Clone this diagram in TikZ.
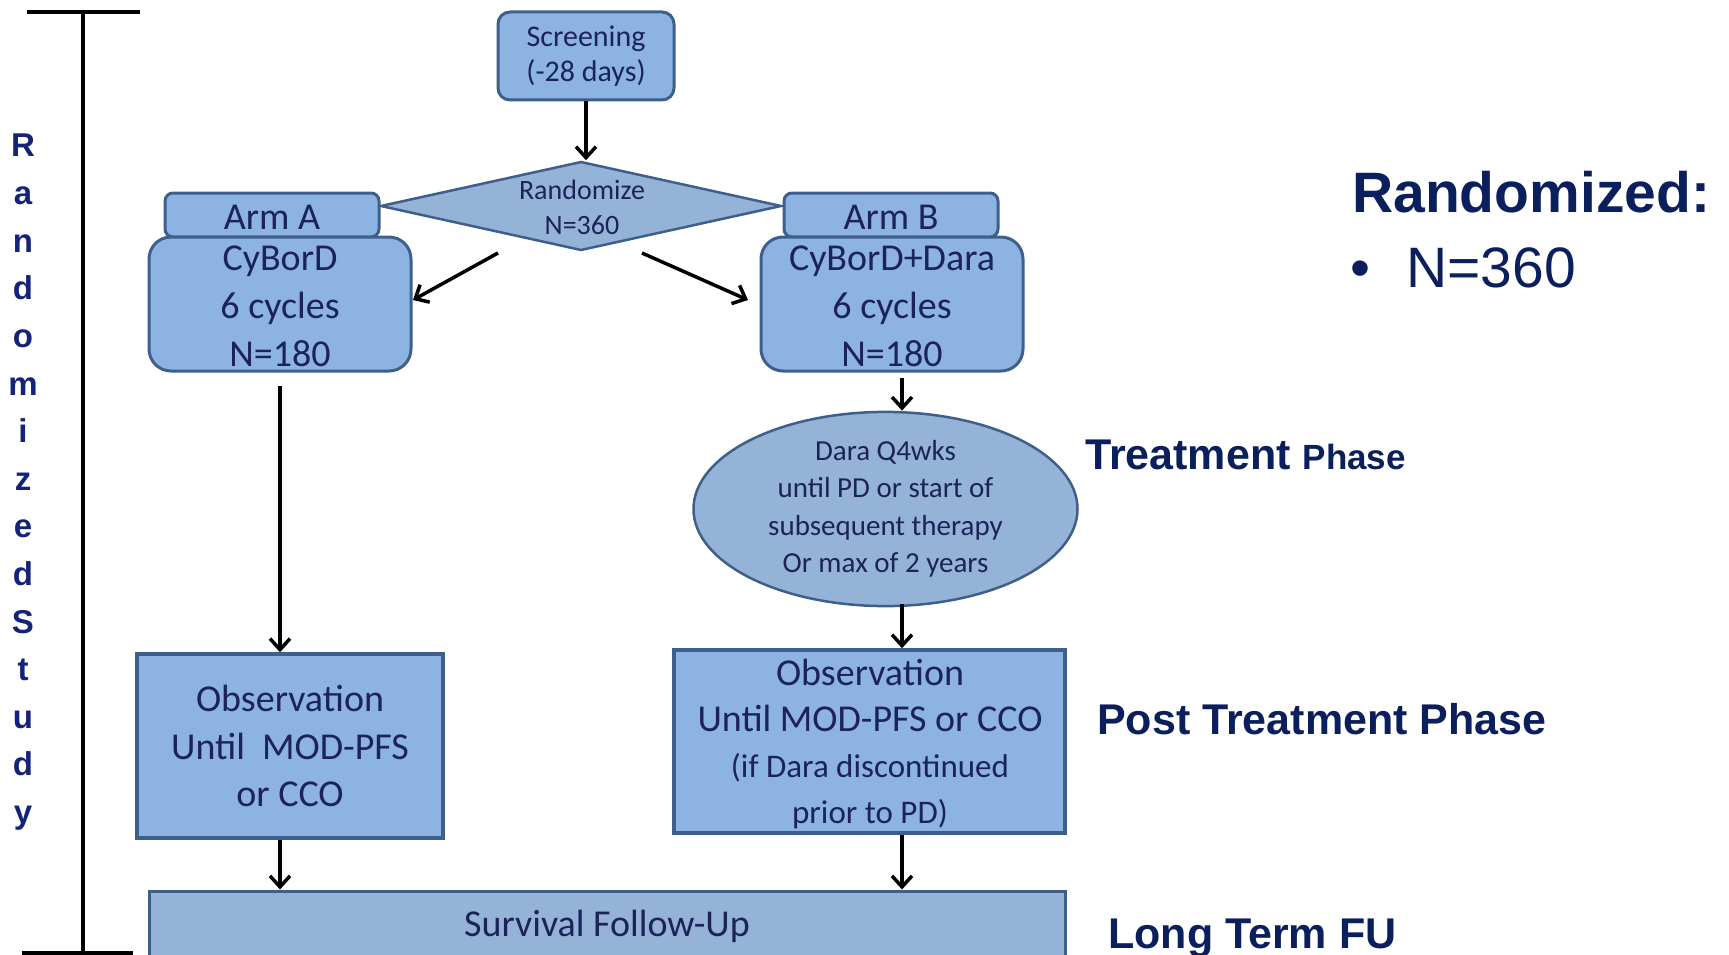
\documentclass[tikz,border=0pt]{standalone}
\usepackage{fontspec}
\setmainfont{Carlito}
\newfontfamily\arialf{Liberation Sans}
\usetikzlibrary{shapes.geometric,arrows.meta}
\definecolor{boxfill}{HTML}{8DB3E2}
\definecolor{grayfill}{HTML}{95B3D7}
\definecolor{boxline}{HTML}{3E5F8A}
\definecolor{boxtext}{HTML}{1C2358}
\definecolor{labtext}{HTML}{0A1F5C}
\definecolor{lettext}{HTML}{14237A}
\begin{document}
\begin{tikzpicture}[x=1pt,y=-1pt,
  rbox/.style={draw=boxline,line width=3pt,fill=boxfill,rounded corners=#1,inner sep=0pt,text=boxtext,align=center},
  sbox/.style={draw=boxline,line width=3.5pt,fill=#1,inner sep=0pt,text=boxtext,align=center},
  txt/.style={text=boxtext,align=center,inner sep=0pt},
  arr/.style={draw=black,line width=3.5pt,-{Straight Barb[length=11pt,width=20pt]}},
  lab/.style={text=labtext,anchor=base west,inner sep=0pt,font=\arialf\bfseries},
  vlet/.style={text=lettext,anchor=base,inner sep=0pt,font=\arialf\bfseries\fontsize{33}{33}\selectfont}
]
\useasboundingbox (0,0) rectangle (1729,955);
\clip (0,0) rectangle (1729,955);

% left study bar
\draw[line width=4pt] (27,12) -- (140,12);
\draw[line width=4pt] (83,12) -- (83,958);
\draw[line width=4pt] (22,953) -- (133,953);
\foreach \l [count=\i from 0] in {R,a,n,d,o,m,i,z,e,d,S,t,u,d,y}
  \node[vlet] (v\i) at (23,{157+47.6*\i}) {\l};

% screening
\node[rbox=12pt,minimum width=176pt,minimum height=88pt,font=\fontsize{30}{35}\selectfont] (screen) at (586,56) {Screening\\(-28 days)};

% randomize diamond
\node[diamond,draw=boxline,line width=2.5pt,fill=grayfill,minimum width=401pt,minimum height=89pt,inner sep=0pt] (rand) at (581,206) {};
\node[txt,font=\fontsize{28}{35}\selectfont] (randt) at (582,207) {Randomize\\N=360};

% arm A
\node[rbox=8pt,minimum width=214pt,minimum height=44pt] (tabA) at (272,215) {};
\node[rbox=22pt,minimum width=262pt,minimum height=134pt] (armA) at (280,304) {};
\node[txt,font=\fontsize{38}{48}\selectfont] (tabAt) at (272,217) {Arm A};
\node[txt,font=\fontsize{38}{48}\selectfont] (armAt) at (280,306) {CyBorD\\6 cycles\\N=180};

% arm B
\node[rbox=8pt,minimum width=214pt,minimum height=44pt] (tabB) at (891,215) {};
\node[rbox=22pt,minimum width=262pt,minimum height=134pt] (armB) at (892,304) {};
\node[txt,font=\fontsize{38}{48}\selectfont] (tabBt) at (891,217) {Arm B};
\node[txt,font=\fontsize{38}{48}\selectfont] (armBt) at (892,306) {CyBorD+Dara\\6 cycles\\N=180};

% ellipse
\node[ellipse,draw=boxline,line width=2.5pt,fill=grayfill,minimum width=384pt,minimum height=190pt,inner sep=0pt,text=boxtext,align=center,font=\fontsize{29}{37.5}\selectfont] (ell) at (885.5,509) {Dara Q4wks\\until PD or start of\\subsequent therapy\\Or max of 2 years};

% observation boxes
\node[sbox=boxfill,minimum width=306pt,minimum height=184pt,font=\fontsize{38}{47.5}\selectfont] (obsA) at (290,746) {Observation\\Until~ MOD-PFS\\or CCO};
\node[sbox=boxfill,minimum width=391pt,minimum height=183pt] (obsB) at (869.5,741.5) {};
\node[txt,font=\fontsize{38}{46}\selectfont] (obsBt) at (870,744) {Observation\\Until MOD-PFS or CCO\\{\fontsize{33}{40}\selectfont (if Dara discontinued}\\{\fontsize{33}{40}\selectfont prior to PD)}};

% survival
\node[sbox=grayfill,line width=3pt,minimum width=916pt,minimum height=70pt,font=\fontsize{38}{46}\selectfont] (surv) at (607,926) {Survival Follow-Up};

% connectors
\coordinate (la1) at (498,253);
\coordinate (la2) at (413,300);
\coordinate (ra1) at (642,253);
\coordinate (ra2) at (748,300);
\coordinate (b1) at (902,378);
\coordinate (e1) at (902,604);
\draw[arr] (screen.south) -- (screen.south |- rand.north);
\draw[arr] (la1) -- (la2);
\draw[arr] (ra1) -- (ra2);
\draw[arr] (b1) -- (b1 |- ell.north);
\draw[arr] (e1) -- (e1 |- obsB.north);
\draw[arr] ([yshift=-13pt]armA.south) -- (armA.south |- obsA.north);
\draw[arr] (armA.south |- obsA.south) -- (armA.south |- surv.north);
\draw[arr] (e1 |- obsB.south) -- (e1 |- surv.north);

% right labels
\node[lab,font=\arialf\bfseries\fontsize{57}{60}\selectfont] (rz) at (1352,212) {Randomized:};
\node[lab,font=\arialf\fontsize{57}{60}\selectfont] (bul) at (1350,287) {•};
\node[lab,font=\arialf\fontsize{57}{60}\selectfont] (n360) at (1406,287) {N=360};
\node[lab] (tp) at (1085,469) {\fontsize{43}{50}\selectfont Treatment \fontsize{35}{40}\selectfont Phase};
\node[lab,font=\arialf\bfseries\fontsize{43}{50}\selectfont] (ptp) at (1097,734) {Post Treatment Phase};
\node[lab,font=\arialf\bfseries\fontsize{43}{50}\selectfont] (ltf) at (1108,948) {Long Term FU};
\end{tikzpicture}
\end{document}
